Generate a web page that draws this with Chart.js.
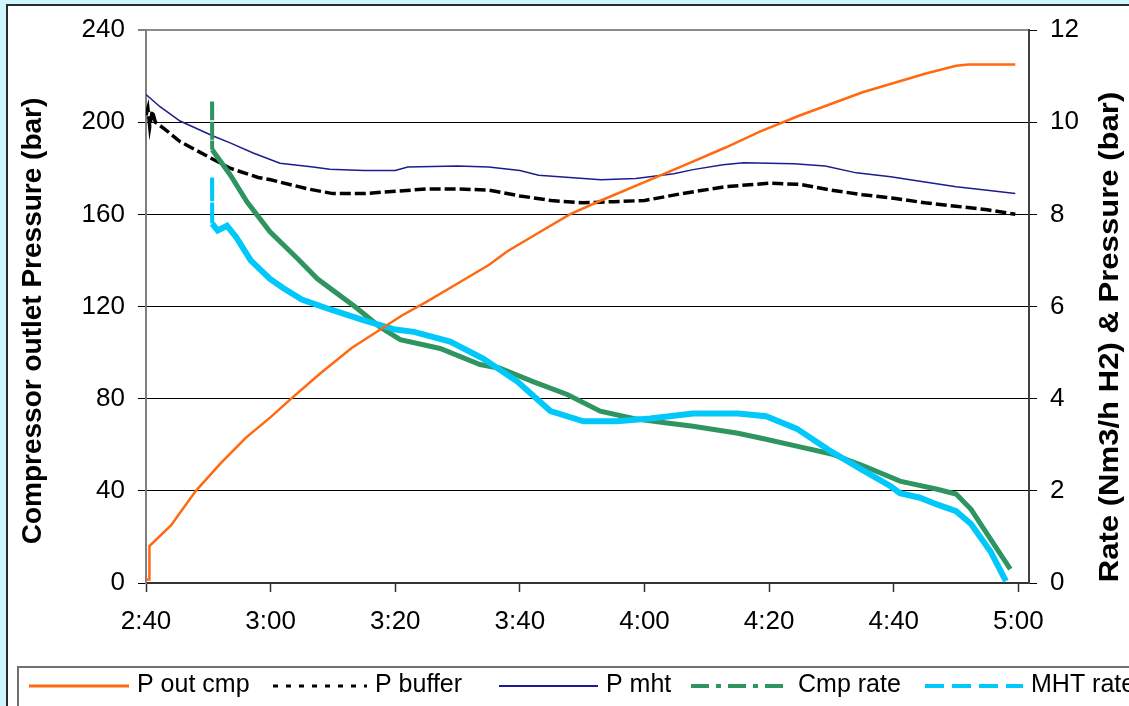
<!DOCTYPE html>
<html>
<head>
<meta charset="utf-8">
<script src="https://cdn.jsdelivr.net/npm/chart.js@4/dist/chart.umd.min.js"></script>
<style>
html, body { margin: 0; padding: 0; width: 1129px; height: 706px; overflow: hidden; background: #cdf6fd; }
#frame { position: absolute; left: 6px; top: 4px; width: 1200px; height: 800px; border: 2px solid #2b2b2b; background: #fff; }
#chart { position: absolute; left: 0; top: 0; }
</style>
</head>
<body>
<div id="frame"><canvas id="chart" width="1121" height="700"></canvas></div>
<script>
// time axis (clock time), runs from 2:40 to a bit past 5:00
var xStart = '2:40';
var xEnd = '5:01:42';
var xTickLabels = ['2:40', '3:00', '3:20', '3:40', '4:00', '4:20', '4:40', '5:00'];

// P out cmp (bar, left axis)
var pOutCmp_time = ['2:40', '2:40:30', '2:40:33', '2:44', '2:48', '2:52', '2:56', '3:00', '3:03:18', '3:08',
	'3:13', '3:17:36', '3:21', '3:25', '3:30', '3:35', '3:38', '3:43', '3:48', '3:53',
	'4:00', '4:07', '4:13', '4:18:36', '4:25', '4:30', '4:35', '4:40', '4:45', '4:50', '4:52', '4:59:30'];
var pOutCmp_val = [1.5, 1.5, 16, 25, 40, 52, 63, 72, 80, 91,
	102, 110, 116, 122, 130, 138, 144, 152, 160, 166,
	174, 182, 189, 196, 203, 208, 213, 217, 221, 224.5, 225, 225];

// P buffer (bar, left axis)
var pBuffer_time = ['2:40', '2:40:18', '2:40:36', '2:41', '2:41:30', '2:43', '2:45:30', '2:50', '2:53:30', '2:58',
	'3:00', '3:06', '3:10', '3:15', '3:20', '3:25', '3:30', '3:35', '3:40', '3:45',
	'3:50', '3:55', '4:00', '4:06', '4:13', '4:20', '4:25', '4:30', '4:35', '4:40',
	'4:45', '4:50', '4:55', '4:59:30'];
var pBuffer_val = [203, 206, 198, 205, 200, 197, 191.5, 185, 180, 176,
	175, 171, 169, 169, 170, 171, 171, 170.5, 168, 166,
	165, 165.5, 166, 169, 172, 173.5, 173, 170.5, 168.5, 167,
	165, 163.5, 162, 160];

// P mht (bar, left axis)
var pMht_time = ['2:40', '2:42:15', '2:45:28', '2:50:46', '2:53:30', '2:57:12', '3:01:30', '3:06:48', '3:09:30', '3:15',
	'3:20', '3:22', '3:30', '3:35', '3:40', '3:43', '3:48', '3:53', '3:58:36', '4:04:42',
	'4:07:48', '4:12:36', '4:15:54', '4:24', '4:29', '4:34', '4:39:30', '4:45', '4:50', '4:55', '4:59:30'];
var pMht_val = [212, 206.7, 200.5, 194, 191, 186.6, 182.2, 180.5, 179.6, 179,
	179, 180.5, 181, 180.5, 179, 177, 176, 175, 175.5, 177.6,
	179.4, 181.5, 182.4, 182, 181, 178, 176.3, 174, 172, 170.5, 169];

// Cmp rate (Nm3/h H2, right axis)
var cmpRate_time = ['2:50:36', '2:50:37', '2:53:30', '2:56:12', '2:59:54', '3:04:18', '3:07:30', '3:10', '3:13:30', '3:17:36',
	'3:20:48', '3:27:12', '3:33:36', '3:36:48', '3:42:06', '3:47:36', '3:52:54', '3:58:12', '4:03:36', '4:07:48',
	'4:15', '4:19:30', '4:24:24', '4:30', '4:35', '4:41', '4:43', '4:46:48', '4:50', '4:52:24', '4:55', '4:58:42'];
var cmpRate_val = [10.45, 9.4, 8.86, 8.27, 7.62, 7.04, 6.6, 6.35, 6.0, 5.55,
	5.28, 5.09, 4.74, 4.66, 4.37, 4.09, 3.73, 3.57, 3.47, 3.4,
	3.25, 3.12, 2.97, 2.8, 2.55, 2.21, 2.15, 2.04, 1.93, 1.6, 1.06, 0.3];

// MHT rate (Nm3/h H2, right axis)
var mhtRate_time = ['2:50:36', '2:50:37', '2:51:30', '2:53', '2:54:30', '2:56:48', '2:59:54', '3:02', '3:05', '3:09:42',
	'3:15', '3:20', '3:23', '3:28:48', '3:34:06', '3:39:36', '3:44:54', '3:50:12', '3:55:36', '4:00:54',
	'4:07:48', '4:15', '4:19:30', '4:24:24', '4:30', '4:35', '4:39:30', '4:41', '4:44:12', '4:46:48',
	'4:50', '4:52:24', '4:55:30', '4:58'];
var mhtRate_val = [8.8, 7.8, 7.65, 7.75, 7.5, 7.0, 6.6, 6.4, 6.15, 5.93,
	5.7, 5.5, 5.45, 5.24, 4.87, 4.37, 3.73, 3.51, 3.51, 3.57,
	3.68, 3.68, 3.62, 3.35, 2.85, 2.45, 2.1, 1.95, 1.85, 1.71,
	1.56, 1.28, 0.69, 0.04];


// 'h:mm' or 'h:mm:ss' -> minutes after xStart
var t0 = 0;
function toMin(s) {
	var p = s.split(':');
	var m = (+p[0]) * 60 + (+p[1]) + (p.length > 2 ? (+p[2]) / 60 : 0);
	return m - t0;
}
t0 = toMin(xStart);

function pts(times, vals) {
	return times.map(function(t, i) { return { x: toMin(t), y: vals[i] }; });
}

// first segment of the rate lines is the dashed start-up spike
function spikeDash(pattern) {
	return function(c) { return c.p0DataIndex === 0 ? pattern : undefined; };
}
function spikeWidth(c) { return c.p0DataIndex === 0 ? 4 : undefined; }

// fixed scale sizes, and no extra label padding so the plot area lands where we want
function fixSize(w, h) {
	return function(s) {
		if (w != null) s.width = w;
		if (h != null) s.height = h;
		s.paddingTop = 0; s.paddingBottom = 0; s.paddingLeft = 0; s.paddingRight = 0;
	};
}

var FONT = "'Liberation Sans', Arial, sans-serif";

// custom legend (boxed, at the bottom) + axis titles
var legendAndTitles = {
	id: 'legendAndTitles',
	afterDraw: function(chart, args, opts) {
		var ctx = chart.ctx;
		ctx.save();

		// legend box
		ctx.fillStyle = '#fff';
		ctx.fillRect(opts.box.x, opts.box.y, 2000, 200);
		ctx.strokeStyle = '#707070';
		ctx.lineWidth = 2;
		ctx.strokeRect(opts.box.x, opts.box.y, 2000, 200);

		ctx.font = '25px ' + FONT;
		ctx.textBaseline = 'alphabetic';
		ctx.textAlign = 'left';
		chart.data.datasets.forEach(function(ds, i) {
			var it = opts.items[i];
			ctx.beginPath();
			ctx.setLineDash(ds.legendDash || []);
			ctx.lineWidth = ds.legendWidth || ds.borderWidth;
			ctx.strokeStyle = ds.borderColor;
			ctx.moveTo(it.x0, opts.lineY);
			ctx.lineTo(it.x1, opts.lineY);
			ctx.stroke();
			ctx.setLineDash([]);
			ctx.fillStyle = '#000';
			ctx.fillText(ds.label, it.x1 + 8, opts.textY);
		});

		// axis titles, both read bottom to top
		ctx.font = 'bold 28px ' + FONT;
		ctx.textAlign = 'center';
		ctx.textBaseline = 'middle';
		ctx.fillStyle = '#000';
		opts.titles.forEach(function(t) {
			var sc = chart.scales[t.scale];
			ctx.save();
			ctx.translate(t.x, t.y);
			ctx.rotate(-Math.PI / 2);
			ctx.scale(t.stretch, 1);
			ctx.fillText(sc.options.title.text, 0, 0);
			ctx.restore();
		});
		ctx.restore();
	}
};

var ctx = document.getElementById('chart');
var cfg = {
	type: 'line',
	data: {
		datasets: [
			{ label: 'P out cmp', data: pts(pOutCmp_time, pOutCmp_val), yAxisID: 'y',
			  borderColor: '#ff6a10', borderWidth: 2.5, legendWidth: 3, order: 0 },
			{ label: 'P buffer', data: pts(pBuffer_time, pBuffer_val), yAxisID: 'y',
			  borderColor: '#000000', borderWidth: 3.5, borderDash: [11, 4], legendDash: [5, 8], legendWidth: 3, order: 3 },
			{ label: 'P mht', data: pts(pMht_time, pMht_val), yAxisID: 'y',
			  borderColor: '#1c1c8e', borderWidth: 1.5, legendWidth: 2, order: 4 },
			{ label: 'Cmp rate', data: pts(cmpRate_time, cmpRate_val), yAxisID: 'y2',
			  borderColor: '#2e9560', borderWidth: 5, legendDash: [18, 7, 5, 7], legendWidth: 4, order: 2,
			  segment: { borderDash: spikeDash([18, 8, 5, 8]), borderWidth: spikeWidth } },
			{ label: 'MHT rate', data: pts(mhtRate_time, mhtRate_val), yAxisID: 'y2',
			  borderColor: '#00c8fa', borderWidth: 6, legendDash: [19, 8], legendWidth: 4, order: 1,
			  segment: { borderDash: spikeDash([16, 9]), borderWidth: spikeWidth } }
		]
	},
	options: {
		responsive: false,
		animation: false,
		events: [],
		layout: { padding: { top: 24, left: 0, right: 0, bottom: 0 } },
		elements: { point: { radius: 0 }, line: { tension: 0, borderCapStyle: 'butt' } },
		plugins: {
			legend: { display: false },
			tooltip: { enabled: false },
			legendAndTitles: {
				box: { x: 10, y: 661 },
				lineY: 680,
				textY: 686,
				items: [
					{ x0: 21, x1: 121 },
					{ x0: 265, x1: 359 },
					{ x0: 491, x1: 590 },
					{ x0: 683, x1: 782 },
					{ x0: 917, x1: 1015 }
				],
				titles: [
					{ scale: 'y', x: 25, y: 315, stretch: 1 },
					{ scale: 'y2', x: 1102, y: 331, stretch: 1.11 }
				]
			}
		},
		scales: {
			x: {
				type: 'linear',
				min: 0,
				max: toMin(xEnd),
				afterFit: fixSize(null, 123),
				afterBuildTicks: function(s) {
					s.ticks = xTickLabels.map(function(l) { return { value: toMin(l) }; });
				},
				ticks: {
					autoSkip: false, maxRotation: 0, padding: 14, color: '#000',
					font: { family: FONT, size: 26 },
					callback: function(v) {
						var i = xTickLabels.map(toMin).indexOf(v);
						return i >= 0 ? xTickLabels[i] : '';
					}
				},
				grid: { drawOnChartArea: false, drawTicks: true, tickLength: 9, tickColor: '#333', tickWidth: 1.5 },
				border: { color: '#333', width: 2 }
			},
			y: {
				position: 'left',
				min: 0, max: 240,
				afterFit: fixSize(138, null),
				ticks: { stepSize: 40, padding: 13, color: '#000', font: { family: FONT, size: 26 } },
				grid: {
					color: function(c) { return c.tick && c.tick.value === 240 ? '#8c8c8c' : '#000'; },
					lineWidth: function(c) { return c.tick && c.tick.value === 240 ? 2 : 1; },
					drawTicks: true, tickLength: 8, tickColor: '#000', tickWidth: 1
				},
				border: { color: '#7f7f7f', width: 2 },
				title: { display: false, text: 'Compressor outlet Pressure (bar)' }
			},
			y2: {
				position: 'right',
				min: 0, max: 12,
				afterFit: fixSize(100, null),
				ticks: { stepSize: 2, padding: 13, color: '#000', font: { family: FONT, size: 26 } },
				grid: { drawOnChartArea: false, drawTicks: true, tickLength: 8, tickColor: '#000', tickWidth: 1 },
				border: { color: '#404040', width: 2 },
				title: { display: false, text: 'Rate (Nm3/h H2) & Pressure (bar)' }
			}
		}
	},
	plugins: [legendAndTitles]
};
new Chart(ctx, cfg);
</script>
</body>
</html>
